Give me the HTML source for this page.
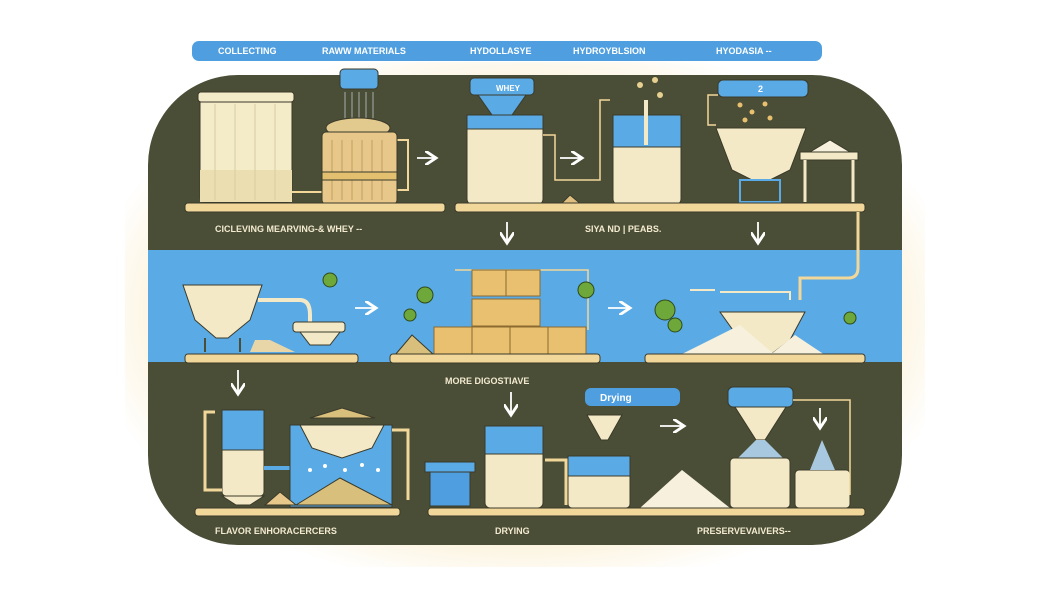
<!DOCTYPE html>
<html><head><meta charset="utf-8"><style>
html,body{margin:0;padding:0;background:#fff;}
svg{display:block;font-family:"Liberation Sans",sans-serif;}
</style></head><body>
<svg width="1050" height="600" viewBox="0 0 1050 600" xmlns="http://www.w3.org/2000/svg">
<defs>
<radialGradient id="glow" cx="50%" cy="50%" r="55%">
<stop offset="0.7" stop-color="#faecc8"/><stop offset="1" stop-color="#ffffff"/></radialGradient>
<clipPath id="pc"><rect x="148" y="75" width="754" height="470" rx="90"/></clipPath>
<marker id="ah" markerWidth="8" markerHeight="8" refX="6" refY="4" orient="auto"><path d="M0,0 L6,4 L0,8" fill="none" stroke="#fff" stroke-width="1.6"/></marker>
</defs>
<rect width="1050" height="600" fill="#fff"/>
<rect x="125" y="62" width="800" height="505" rx="110" fill="url(#glow)"/>
<rect x="192" y="41" width="630" height="20" rx="7" fill="#4f9fe0"/>
<g fill="#fff" font-size="9" font-weight="bold">
<text x="218" y="54">COLLECTING</text><text x="322" y="54">RAWW MATERIALS</text>
<text x="470" y="54">HYDOLLASYE</text><text x="573" y="54">HYDROYBLSION</text><text x="716" y="54">HYODASIA --</text></g>
<rect x="148" y="75" width="754" height="470" rx="90" fill="#4a4e36"/>
<g clip-path="url(#pc)"><rect x="148" y="250" width="754" height="112" fill="#5aaae6"/></g>
<g stroke="#3a3a2a" stroke-width="1">
<!-- Row 1 -->
<rect x="200" y="92" width="92" height="110" rx="4" fill="#f4ebc8"/>
<rect x="200" y="170" width="92" height="32" fill="#ebdfb2" stroke="none"/>
<path d="M215,104 V200 M235,104 V200 M255,104 V200 M275,104 V200" stroke="#d8cba0"/>
<rect x="198" y="92" width="96" height="10" rx="3" fill="#f4ebc8"/>
<path d="M292,192 H322 M397,190 H408 V140 H395" fill="none" stroke="#f2d79a" stroke-width="2"/>
<rect x="340" y="69" width="38" height="20" rx="4" fill="#5aaae6"/>
<path d="M345,92 V118 M352,92 V118 M359,92 V118 M366,92 V118 M373,92 V118" stroke="#cfd8e0" stroke-width="0.7"/>
<ellipse cx="358" cy="128" rx="32" ry="10" fill="#e2c98e"/>
<rect x="322" y="132" width="75" height="72" rx="4" fill="#e8c88a"/>
<path d="M332,140 V200 M342,140 V200 M352,140 V200 M362,140 V200 M372,140 V200 M382,140 V200" stroke="#b59454" stroke-width="0.8"/>
<rect x="322" y="172" width="75" height="8" fill="#e2c070"/>
<rect x="467" y="115" width="76" height="90" rx="6" fill="#f4e9c6"/>
<rect x="467" y="115" width="76" height="14" fill="#5aaae6"/>
<rect x="470" y="78" width="64" height="17" rx="4" fill="#5aaae6"/>
<path d="M478,95 L526,95 L512,115 L492,115Z" fill="#5aaae6"/>
<path d="M543,135 H555 V180 H600 V100 H610" fill="none" stroke="#f2d79a" stroke-width="1.5"/>
<path d="M560,205 L570,195 L582,205Z" fill="#e0bf80"/>
<rect x="613" y="115" width="68" height="90" rx="6" fill="#f4e9c6"/>
<rect x="613" y="115" width="68" height="32" fill="#5aaae6"/>
<path d="M646,100 V145" stroke="#f4e9c6" stroke-width="4"/>
<g fill="#e8d090" stroke="none"><circle cx="640" cy="85" r="3"/><circle cx="655" cy="80" r="3"/><circle cx="660" cy="95" r="3"/></g>
<rect x="718" y="80" width="90" height="17" rx="5" fill="#5aaae6"/>
<g fill="#e8c070" stroke="none"><circle cx="740" cy="105" r="2.5"/><circle cx="752" cy="112" r="2.5"/><circle cx="765" cy="104" r="2.5"/><circle cx="770" cy="118" r="2.5"/><circle cx="745" cy="120" r="2.5"/></g>
<path d="M718,95 H708 V125 H716" fill="none" stroke="#f2d79a" stroke-width="1.5"/>
<path d="M716,128 L806,128 L790,170 L770,180 L752,180 L732,170Z" fill="#f4e9c6"/>
<rect x="740" y="180" width="40" height="22" fill="none" stroke="#5aaae6" stroke-width="2"/>
<rect x="800" y="152" width="58" height="8" fill="#f4e9c6"/>
<path d="M805,160 V202 M853,160 V202" stroke="#f4e9c6" stroke-width="3"/>
<path d="M810,152 L830,140 L850,152Z" fill="#f7f0dc"/>
<rect x="185" y="203" width="260" height="9" rx="3" fill="#f2d79a"/>
<rect x="455" y="203" width="410" height="9" rx="3" fill="#f2d79a"/>
<!-- Row 2 -->
<path d="M183,285 L262,285 L250,320 L228,338 L216,338 L195,320Z" fill="#f4e9c6"/>
<path d="M205,338 V352 M240,338 V352" stroke="#4a4e36" stroke-width="2"/>
<path d="M258,300 H300 Q310,300 310,315 V322" fill="none" stroke="#f4e9c6" stroke-width="4"/>
<rect x="293" y="322" width="52" height="10" rx="3" fill="#f4e9c6"/>
<path d="M300,332 L340,332 L330,345 L310,345Z" fill="#f4e9c6"/>
<path d="M255,340 L270,340 L295,352 L250,352Z" fill="#e8d5a8" stroke="none"/>
<path d="M455,270 H588 V330" fill="none" stroke="#f2d79a" stroke-width="1.5"/>
<g fill="#e8c070" stroke="#8a6a30">
<rect x="472" y="270" width="34" height="26"/><rect x="506" y="270" width="34" height="26"/>
<rect x="472" y="299" width="68" height="27"/>
<rect x="434" y="327" width="38" height="29"/><rect x="472" y="327" width="38" height="29"/><rect x="510" y="327" width="38" height="29"/><rect x="548" y="327" width="38" height="29"/></g>
<path d="M395,355 L412,335 L434,355Z" fill="#d9bf7c"/>
<g fill="#6fa83a" stroke="#2e4a1a"><circle cx="330" cy="280" r="7"/><circle cx="425" cy="295" r="8"/><circle cx="410" cy="315" r="6"/><circle cx="586" cy="290" r="8"/><circle cx="665" cy="310" r="10"/><circle cx="675" cy="325" r="7"/><circle cx="850" cy="318" r="6"/></g>
<path d="M690,290 H715 M720,292 H790 V300" fill="none" stroke="#f4e9c6" stroke-width="2"/>
<path d="M720,312 L805,312 L790,340 L770,355 L740,340Z" fill="#f4e9c6"/>
<path d="M680,355 L740,325 L775,355Z M770,355 L795,335 L825,355Z" fill="#f7f0dc" stroke="none"/>
<path d="M858,212 V268 Q858,278 848,278 H800 V300" fill="none" stroke="#f2d79a" stroke-width="3"/>
<rect x="185" y="354" width="173" height="9" rx="3" fill="#f2d79a"/>
<rect x="390" y="354" width="210" height="9" rx="3" fill="#f2d79a"/>
<rect x="645" y="354" width="220" height="9" rx="3" fill="#f2d79a"/>
<!-- Row 3 -->
<rect x="585" y="388" width="95" height="18" rx="6" fill="#4f9fe0" stroke="none"/>
<rect x="222" y="410" width="42" height="86" rx="4" fill="#f4e9c6"/>
<rect x="222" y="410" width="42" height="40" fill="#5aaae6"/>
<path d="M222,496 L264,496 L250,505 L236,505Z" fill="#f4e9c6"/>
<path d="M264,468 H290" stroke="#5aaae6" stroke-width="4"/>
<rect x="290" y="425" width="102" height="82" fill="#5aaae6"/>
<path d="M300,425 L384,425 L372,448 L342,458 L312,448Z" fill="#f4e9c6"/>
<path d="M310,418 L342,408 L375,418Z" fill="#d9bf7c"/>
<path d="M296,505 L340,478 L392,505Z" fill="#d9bf7c"/>
<path d="M265,505 L280,492 L296,505Z" fill="#e8c88a"/>
<g fill="#fff" stroke="none"><circle cx="310" cy="470" r="2"/><circle cx="325" cy="466" r="2"/><circle cx="345" cy="470" r="2"/><circle cx="362" cy="465" r="2"/><circle cx="378" cy="470" r="2"/></g>
<rect x="425" y="462" width="50" height="10" fill="#5aaae6"/>
<rect x="430" y="472" width="40" height="34" fill="#4f9fe0"/>
<rect x="485" y="426" width="58" height="82" rx="5" fill="#f4e9c6"/>
<rect x="485" y="426" width="58" height="28" fill="#5aaae6"/>
<path d="M587,415 L622,415 L608,440 L601,440Z" fill="#f4e9c6"/>
<rect x="568" y="456" width="62" height="52" rx="4" fill="#f4e9c6"/>
<rect x="568" y="456" width="62" height="20" fill="#5aaae6"/>
<path d="M640,508 L682,470 L730,508Z" fill="#f7f0dc" stroke="none"/>
<rect x="728" y="387" width="65" height="20" rx="5" fill="#5aaae6"/>
<path d="M735,407 L786,407 L765,440 L756,440Z" fill="#f4e9c6"/>
<path d="M756,440 L765,440 L785,460 L736,460Z" fill="#a8c8e0" stroke="none"/>
<rect x="730" y="458" width="60" height="50" rx="4" fill="#f4e9c6"/>
<rect x="795" y="470" width="55" height="38" rx="4" fill="#f4e9c6"/>
<path d="M822,440 L835,470 L810,470Z" fill="#a8c8e0" stroke="none"/>
<path d="M793,400 H850 V495" fill="none" stroke="#f2d79a" stroke-width="1.5"/>
<path d="M215,412 H205 V490 H222 M392,430 H408 V500 M545,460 H566 V505" fill="none" stroke="#f2d79a" stroke-width="3"/>
<rect x="195" y="508" width="205" height="8" rx="3" fill="#f2d79a"/>
<rect x="428" y="508" width="437" height="8" rx="3" fill="#f2d79a"/>
</g>
<g stroke="#fff" stroke-width="1.8" fill="none" marker-end="url(#ah)">
<path d="M417,158 H436"/><path d="M560,158 H582"/>
<path d="M507,222 V243"/><path d="M758,222 V243"/>
<path d="M355,308 H376"/><path d="M608,308 H630"/>
<path d="M238,370 V394"/><path d="M511,392 V415"/>
<path d="M660,426 H684"/><path d="M820,408 V428"/>
</g>
<g fill="#f3ead0" font-size="9" font-weight="bold">
<text x="215" y="232">CICLEVING MEARVING-&amp; WHEY --</text>
<text x="585" y="232">SIYA ND | PEABS.</text>
<text x="445" y="384">MORE DIGOSTIAVE</text>
<text x="215" y="534">FLAVOR ENHORACERCERS</text>
<text x="495" y="534">DRYING</text>
<text x="697" y="534">PRESERVEVAIVERS--</text>
</g>
<text x="600" y="401" fill="#fff" font-size="10" font-weight="bold">Drying</text>
<text x="496" y="91" fill="#fff" font-size="8" font-weight="bold">WHEY</text>
<text x="758" y="92" fill="#fff" font-size="9" font-weight="bold">2</text>
</svg>
</body></html>
